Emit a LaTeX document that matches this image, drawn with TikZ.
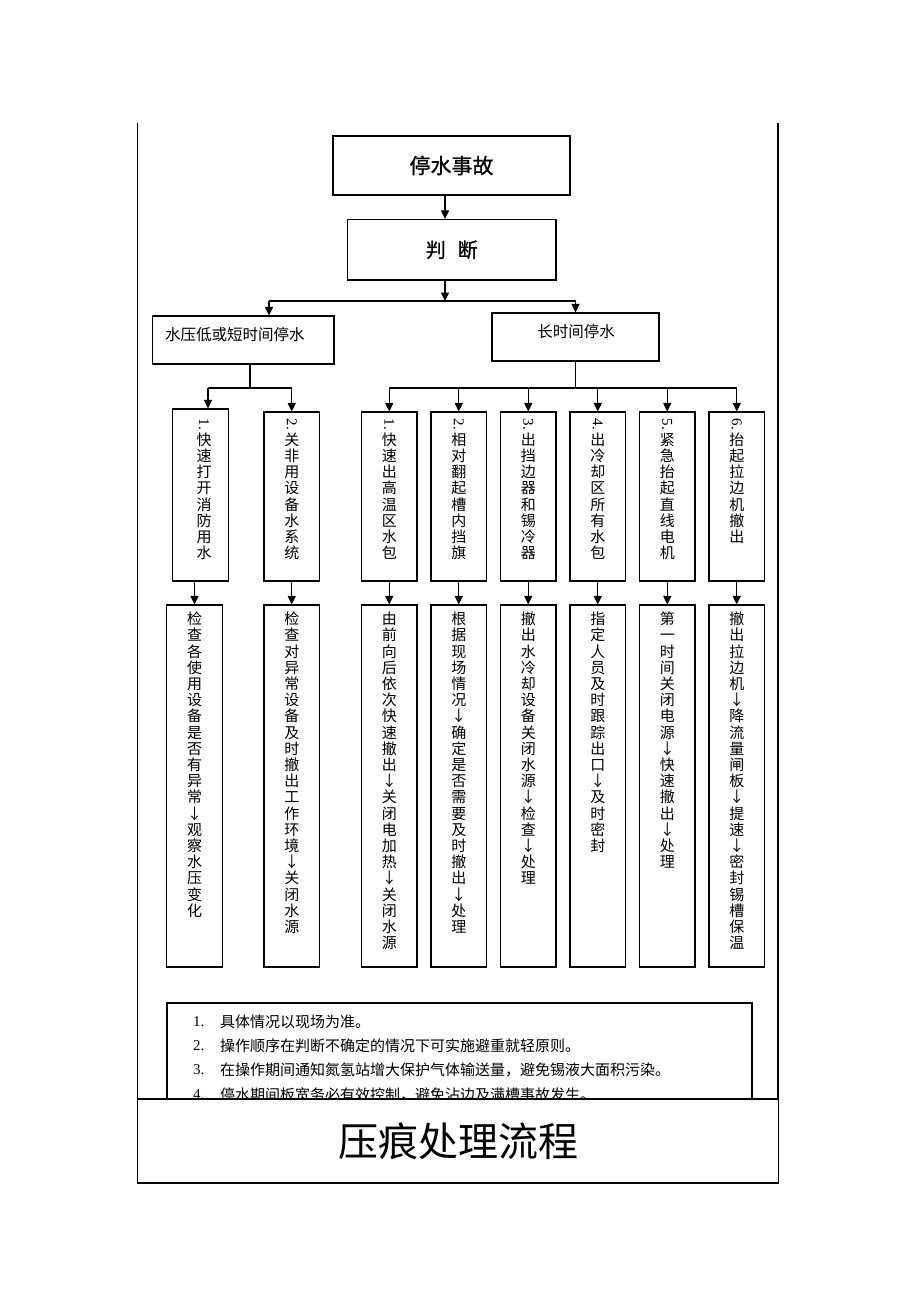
\documentclass[tikz,border=0pt]{standalone}
\usepackage{fontspec}
\setmainfont{Liberation Serif}
\newfontfamily\cjk{Noto Sans CJK SC}
\newfontfamily\cjkb[FakeBold=1]{Noto Sans CJK SC}
\usetikzlibrary{arrows.meta}
\newcommand\rdig[1]{\rotatebox[origin=c]{-90}{\rmfamily #1}}
\begin{document}
\begin{tikzpicture}[x=1pt,y=-1pt,
  box/.style={draw, line width=1.2pt, inner sep=0pt},
  ln/.style={line width=1.2pt},
  arr/.style={line width=1.2pt, -{Triangle[length=8.5pt,width=8pt]}},
  vt/.style={anchor=north, inner sep=0pt, align=center, font=\cjk\fontsize{15}{16.2}\selectfont},
  r1/.style={box, minimum width=55.5pt, minimum height=169pt},
  r2/.style={box, minimum width=55.5pt, minimum height=362pt},
  note/.style={anchor=west, inner sep=0pt, font=\cjk\fontsize{15}{15}\selectfont},
  num/.style={anchor=west, inner sep=0pt, font=\rmfamily\fontsize{15}{15}\selectfont}
]
\path[fill=white] (0,0) rectangle (920,1302);
\useasboundingbox (0,0) rectangle (920,1302);

% outer frame lines
\draw[ln] (137.5,123) -- (137.5,1099);
\draw[ln] (778,123) -- (778,1099);

% top boxes
\node[box, minimum width=237pt, minimum height=59pt, font=\cjkb\fontsize{21}{21}\selectfont] (top) at (451.5,165.5) {停水事故};
\node[box, minimum width=208.5pt, minimum height=60.5pt, font=\cjkb\fontsize{20}{20}\selectfont] (judge) at (451.75,249.75) {判\hspace{0.6em}断};

\node[box, minimum width=181.5pt, minimum height=48pt] (left) at (243.25,340) {};
\node[box, minimum width=167pt, minimum height=48pt] (right) at (575.5,337) {};
\node[note, font=\cjk\fontsize{15.5}{15.5}\selectfont] (lefttext) at (165,335) {水压低或短时间停水};
\node[inner sep=0pt, font=\cjk\fontsize{15.5}{15.5}\selectfont] (righttext) at (576,331.5) {长时间停水};

\coordinate (ax) at (445,0);
\coordinate (hj) at (445,301);
\coordinate (hl) at (269,301);
\coordinate (hr) at (575.5,301);
\draw[arr] (top.south -| ax) -- (judge.north -| ax);
\draw[arr] (judge.south -| ax) -- (hj);
\draw[ln] (hl) -- (hr);
\draw[arr] (hl) -- (hl |- left.north);
\draw[arr] (hr) -- (right.north);

% row 1 boxes
\node[box, minimum width=56pt, minimum height=172pt] (b1) at (200.5,495) {};
\node[r1] (b2) at (291.75,496.5) {};
\node[r1] (b3) at (389.25,496.5) {};
\node[r1] (b4) at (458.75,496.5) {};
\node[r1] (b5) at (528.25,496.5) {};
\node[r1] (b6) at (597.75,496.5) {};
\node[r1] (b7) at (667.25,496.5) {};
\node[r1] (b8) at (736.75,496.5) {};

% row 2 boxes
\node[box, minimum width=56pt, minimum height=362pt] (c1) at (194.5,786) {};
\node[r2] (c2) at (291.75,786) {};
\node[r2] (c3) at (389.25,786) {};
\node[r2] (c4) at (458.75,786) {};
\node[r2] (c5) at (528.25,786) {};
\node[r2] (c6) at (597.75,786) {};
\node[r2] (c7) at (667.25,786) {};
\node[r2] (c8) at (736.75,786) {};

% left group connectors
\coordinate (lj) at (250,388);
\coordinate (lj1) at (208,388);
\draw[ln] (left.south -| lj) -- (lj);
\draw[ln] (lj1) -- (lj1 -| b2.north);
\draw[arr] (lj1) -- (lj1 |- b1.north);
\draw[arr] (lj1 -| b2.north) -- (b2.north);

% right group connectors
\coordinate (rj) at (575.5,388);
\draw[ln] (right.south) -- (right.south |- rj);
\draw[ln] (rj -| b3.north) -- (rj -| b8.north);
\foreach \i in {3,...,8} {
  \draw[arr] (rj -| b\i.north) -- (b\i.north);
}

% row1 -> row2
\draw[arr] (b1.south -| c1.north) -- (c1.north);
\foreach \i in {2,...,8} {
  \draw[arr] (b\i.south) -- (c\i.north);
}

% row 1 texts
\node[vt] (t1) at (204,418.5) {\rdig{1.}\\快\\速\\打\\开\\消\\防\\用\\水};
\node[vt] (t2) at (291.75,418.5) {\rdig{2.}\\关\\非\\用\\设\\备\\水\\系\\统};
\node[vt] (t3) at (389.25,418.5) {\rdig{1.}\\快\\速\\出\\高\\温\\区\\水\\包};
\node[vt] (t4) at (458.75,418.5) {\rdig{2.}\\相\\对\\翻\\起\\槽\\内\\挡\\旗};
\node[vt] (t5) at (528.25,418.5) {\rdig{3.}\\出\\挡\\边\\器\\和\\锡\\冷\\器};
\node[vt] (t6) at (597.75,418.5) {\rdig{4.}\\出\\冷\\却\\区\\所\\有\\水\\包};
\node[vt] (t7) at (667.25,418.5) {\rdig{5.}\\紧\\急\\抬\\起\\直\\线\\电\\机};
\node[vt] (t8) at (736.75,418.5) {\rdig{6.}\\抬\\起\\拉\\边\\机\\撤\\出};

% row 2 texts
\node[vt] (u1) at (194.5,611.8) {检\\查\\各\\使\\用\\设\\备\\是\\否\\有\\异\\常\\↓\\观\\察\\水\\压\\变\\化};
\node[vt] (u2) at (291.75,611.8) {检\\查\\对\\异\\常\\设\\备\\及\\时\\撤\\出\\工\\作\\环\\境\\↓\\关\\闭\\水\\源};
\node[vt] (u3) at (389.25,611.8) {由\\前\\向\\后\\依\\次\\快\\速\\撤\\出\\↓\\关\\闭\\电\\加\\热\\↓\\关\\闭\\水\\源};
\node[vt] (u4) at (458.75,611.8) {根\\据\\现\\场\\情\\况\\↓\\确\\定\\是\\否\\需\\要\\及\\时\\撤\\出\\↓\\处\\理};
\node[vt] (u5) at (528.25,611.8) {撤\\出\\水\\冷\\却\\设\\备\\关\\闭\\水\\源\\↓\\检\\查\\↓\\处\\理};
\node[vt] (u6) at (597.75,611.8) {指\\定\\人\\员\\及\\时\\跟\\踪\\出\\口\\↓\\及\\时\\密\\封};
\node[vt] (u7) at (667.25,611.8) {第\\一\\时\\间\\关\\闭\\电\\源\\↓\\快\\速\\撤\\出\\↓\\处\\理};
\node[vt] (u8) at (736.75,611.8) {撤\\出\\拉\\边\\机\\↓\\降\\流\\量\\闸\\板\\↓\\提\\速\\↓\\密\\封\\锡\\槽\\保\\温};

% notes
\node[box, minimum width=585pt, minimum height=117pt] (notes) at (459.5,1061.5) {};
\node[num] (n1) at (193,1022) {1.};
\node[note] (l1) at (220,1022) {具体情况以现场为准。};
\node[num] (n2) at (193,1046) {2.};
\node[note] (l2) at (220,1046) {操作顺序在判断不确定的情况下可实施避重就轻原则。};
\node[num] (n3) at (193,1070) {3.};
\node[note] (l3) at (220,1070) {在操作期间通知氮氢站增大保护气体输送量，避免锡液大面积污染。};
\node[num] (n4) at (193,1095) {4.};
\node[note] (l4) at (220,1095) {停水期间板宽务必有效控制，避免沾边及满槽事故发生。};

% title box (covers the bottom of the notes)
\node[box, fill=white, minimum width=640.5pt, minimum height=84pt, font=\cjk\fontsize{40}{40}\selectfont] (title) at (458,1141) {压痕处理流程};
\end{tikzpicture}
\end{document}
